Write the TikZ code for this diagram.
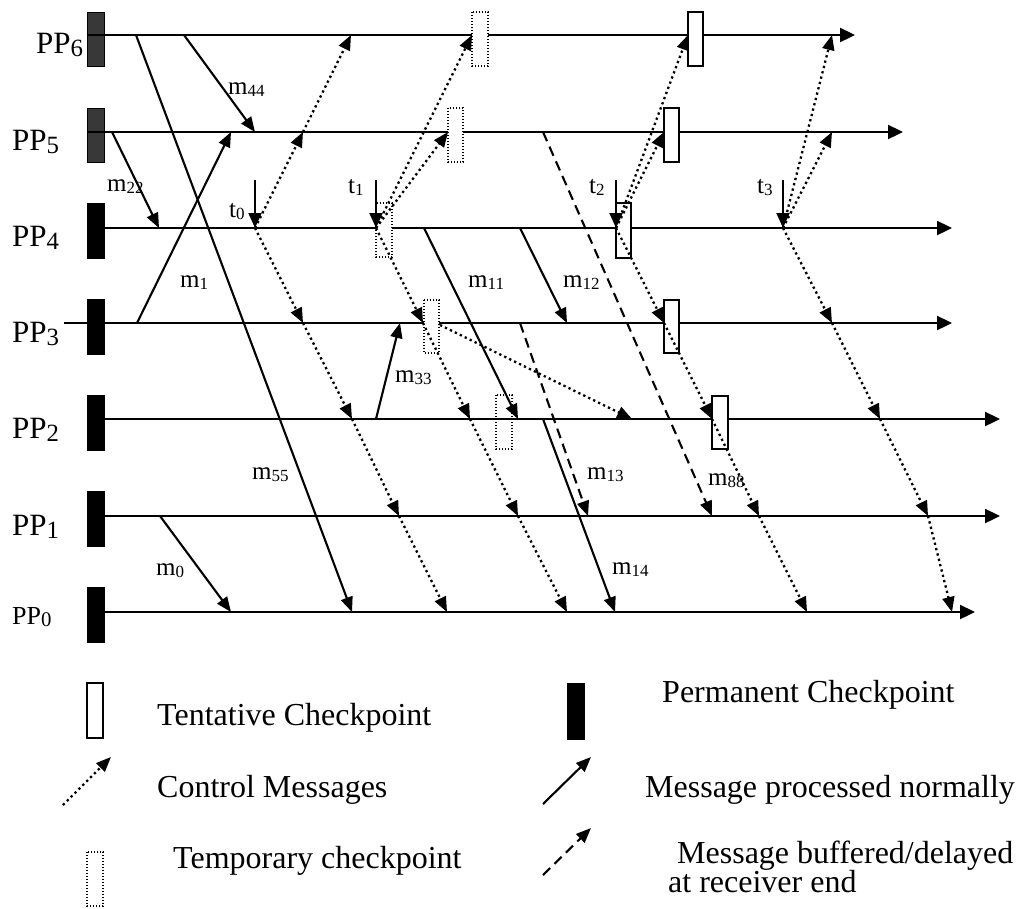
\documentclass[tikz,border=0pt]{standalone}
\usepackage{graphicx}
\usepackage{fontspec}
\setmainfont{Liberation Serif}
\usetikzlibrary{arrows.meta}
\newcommand\mysub[2][0.68]{\raisebox{-0.1em}{\scalebox{#1}{#2}}}
\tikzset{
 proc/.style={line width=2.3pt, -{Triangle[length=15pt,width=14pt]}},
 msg/.style={line width=2.1pt, -{Triangle[length=15pt,width=12pt]}},
 buf/.style={msg, dash pattern=on 10pt off 6pt},
 ctrl/.style={line width=2.3pt, dash pattern=on 2.3pt off 3.2pt, -{Triangle[length=15pt,width=12pt]}},
 tick/.style={line width=2pt, -{Triangle[length=15pt,width=13pt]}},
 perm/.style={fill=black, draw=black, line width=0.8pt},
 permg/.style={fill=black!78, draw=black, line width=0.8pt},
 tent/.style={fill=white, draw=black, line width=1.7pt},
 temp/.style={draw=black, line width=1.4pt, dash pattern=on 1.4pt off 1.6pt},
 tempw/.style={temp, fill=white},
 plab/.style={anchor=base west, inner sep=0pt, font=\fontsize{31}{36}\selectfont},
 mlab/.style={anchor=base west, inner sep=0pt, font=\fontsize{25}{30}\selectfont},
 leg/.style={anchor=base west, inner sep=0pt, font=\fontsize{32}{38}\selectfont},
}
\begin{document}
\begin{tikzpicture}[x=1pt,y=-1pt]
\useasboundingbox (0,0) rectangle (1019,908);

% permanent checkpoints
\draw[permg] (87,12) rectangle (104,66);
\draw[permg] (87,108) rectangle (104,162);
\draw[perm] (87,203) rectangle (104,258);
\draw[perm] (87,299) rectangle (104,354);
\draw[perm] (87,395) rectangle (104,450);
\draw[perm] (87,491) rectangle (104,546);
\draw[perm] (87,587) rectangle (104,642);

% process lines
\coordinate (P6s) at (88,35);  \coordinate (P6e) at (855,35);
\coordinate (P5s) at (88,132); \coordinate (P5e) at (903,132);
\coordinate (P4s) at (104,228); \coordinate (P4e) at (952,228);
\coordinate (P3s) at (64,323);  \coordinate (P3e) at (952,323);
\coordinate (P2s) at (104,419); \coordinate (P2e) at (1000,419);
\coordinate (P1s) at (104,516); \coordinate (P1e) at (1000,516);
\coordinate (P0s) at (104,612); \coordinate (P0e) at (975,612);
\foreach \p in {6,5,4,3,2,1,0} {\draw[proc] (P\p s) -- (P\p e);}

% process labels
\node[plab] (L6) at (36,53) {PP\mysub[0.8]{6}};
\node[plab] (L5) at (12,150) {PP\mysub[0.8]{5}};
\node[plab] (L4) at (12,246) {PP\mysub[0.8]{4}};
\node[plab] (L3) at (12,342) {PP\mysub[0.8]{3}};
\node[plab] (L2) at (12,438) {PP\mysub[0.8]{2}};
\node[plab] (L1) at (12,535) {PP\mysub[0.8]{1}};
\node[plab, font=\fontsize{26}{30}\selectfont] (L0) at (12,624) {PP\mysub[0.8]{0}};

% temporary checkpoints
\draw[tempw] (472,12) rectangle (488,66);
\draw[tempw] (448,108) rectangle (463,162);
\draw[tempw] (376,203) rectangle (392,257);
\draw[tempw] (424,300) rectangle (439,353);
\draw[temp] (496,395) rectangle (512,449);

% tentative checkpoints
\draw[tent] (688,12) rectangle (703,66);
\draw[tent] (664,108) rectangle (679,162);
\draw[tent] (616,203) rectangle (631,258);
\draw[tent] (664,300) rectangle (679,353);
\draw[tent] (712,396) rectangle (728,449);

% initiation ticks
\coordinate (t0a) at (255,180); \coordinate (t0) at (255,228);
\coordinate (t1a) at (376,180); \coordinate (t1) at (376,228);
\coordinate (t2a) at (616,180); \coordinate (t2) at (616,228);
\coordinate (t3a) at (783,180); \coordinate (t3) at (783,228);
\draw[tick] (t0a) -- (t0);
\draw[tick] (t1a) -- (t1);
\draw[tick] (t2a) -- (t2);
\draw[tick] (t3a) -- (t3);
\node[mlab] (lt0) at (229,217) {t\mysub{0}};
\node[mlab] (lt1) at (348,193) {t\mysub{1}};
\node[mlab] (lt2) at (589,193) {t\mysub{2}};
\node[mlab] (lt3) at (757,193) {t\mysub{3}};

% application messages
\coordinate (m55s) at (136,35);  \coordinate (m55e) at (352,612);
\coordinate (m44s) at (184,35);  \coordinate (m44e) at (255,132);
\coordinate (m22s) at (112,132); \coordinate (m22e) at (159,228);
\coordinate (m1s) at (137,323);  \coordinate (m1e) at (231,132);
\coordinate (m0s) at (160,516);  \coordinate (m0e) at (231,612);
\coordinate (m33s) at (376,419); \coordinate (m33e) at (400,323);
\coordinate (m11s) at (424,228); \coordinate (m11e) at (518,419);
\coordinate (m12s) at (520,228); \coordinate (m12e) at (567,323);
\coordinate (m14s) at (543,419); \coordinate (m14e) at (615,612);
\coordinate (m13s) at (520,323); \coordinate (m13e) at (588,516);
\coordinate (m88s) at (543,132); \coordinate (m88e) at (712,516);
\draw[msg] (m55s) -- (m55e);
\draw[msg] (m44s) -- (m44e);
\draw[msg] (m22s) -- (m22e);
\draw[msg] (m1s) -- (m1e);
\draw[msg] (m0s) -- (m0e);
\draw[msg] (m33s) -- (m33e);
\draw[msg] (m11s) -- (m11e);
\draw[msg] (m12s) -- (m12e);
\draw[msg] (m14s) -- (m14e);
\draw[buf] (m13s) -- (m13e);
\draw[buf] (m88s) -- (m88e);
\node[mlab] (l44) at (228,94) {m\mysub{44}};
\node[mlab] (l22) at (107,191) {m\mysub{22}};
\node[mlab] (l1) at (180,287) {m\mysub{1}};
\node[mlab] (l11) at (468,287) {m\mysub{11}};
\node[mlab] (l12) at (563,287) {m\mysub{12}};
\node[mlab] (l33) at (395,382) {m\mysub{33}};
\node[mlab] (l55) at (252,479) {m\mysub{55}};
\node[mlab] (l13) at (587,479) {m\mysub{13}};
\node[mlab] (l88) at (708,485) {m\mysub{88}};
\node[mlab] (l0) at (156,575) {m\mysub{0}};
\node[mlab] (l14) at (612,574) {m\mysub{14}};

% control messages
\coordinate (a5) at (303,132); \coordinate (a6) at (351,35);
\coordinate (a3) at (303,323); \coordinate (a2) at (352,419);
\coordinate (a1) at (399,516); \coordinate (a0) at (447,612);
\draw[ctrl] (t0) -- (a5); \draw[ctrl] (a5) -- (a6);
\draw[ctrl] (t0) -- (a3); \draw[ctrl] (a3) -- (a2);
\draw[ctrl] (a2) -- (a1); \draw[ctrl] (a1) -- (a0);

\coordinate (b5) at (448,132); \coordinate (b6) at (472,35);
\coordinate (b3) at (423,323); \coordinate (b2) at (470,419);
\coordinate (b1) at (518,516); \coordinate (b0) at (567,612);
\coordinate (bx) at (440,325); \coordinate (bxe) at (632,419);
\draw[ctrl] (t1) -- (b5); \draw[ctrl] (t1) -- (b6);
\draw[ctrl] (t1) -- (b3); \draw[ctrl] (b3) -- (b2);
\draw[ctrl] (b2) -- (b1); \draw[ctrl] (b1) -- (b0);
\draw[ctrl] (bx) -- (bxe);

\coordinate (c5) at (664,132); \coordinate (c6) at (688,35);
\coordinate (c3) at (664,323); \coordinate (c2) at (712,419);
\coordinate (c1) at (759,516); \coordinate (c0) at (807,612);
\draw[ctrl] (t2) -- (c5); \draw[ctrl] (t2) -- (c6);
\draw[ctrl] (t2) -- (c3); \draw[ctrl] (c3) -- (c2);
\draw[ctrl] (c2) -- (c1); \draw[ctrl] (c1) -- (c0);

\coordinate (d5) at (832,132); \coordinate (d6) at (832,35);
\coordinate (d3) at (832,323); \coordinate (d2) at (880,419);
\coordinate (d1) at (928,516); \coordinate (d0) at (952,612);
\draw[ctrl] (t3) -- (d5); \draw[ctrl] (t3) -- (d6);
\draw[ctrl] (t3) -- (d3); \draw[ctrl] (d3) -- (d2);
\draw[ctrl] (d2) -- (d1); \draw[ctrl] (d1) -- (d0);

% legend
\draw[tent] (87,683) rectangle (103,738);
\node[leg] (g1) at (157,725) {Tentative Checkpoint};
\coordinate (gc1) at (63,805); \coordinate (gc2) at (111,757);
\draw[ctrl] (gc1) -- (gc2);
\node[leg] (g2) at (157,797) {Control Messages};
\draw[temp] (87,852) rectangle (103,906);
\node[leg] (g3) at (173,868) {Temporary checkpoint};
\draw[perm] (567,683) rectangle (584,739);
\node[leg] (g4) at (662,702) {Permanent Checkpoint};
\coordinate (gm1) at (543,804); \coordinate (gm2) at (591,757);
\draw[msg] (gm1) -- (gm2);
\node[leg] (g5) at (645,797) {Message processed normally};
\coordinate (gb1) at (543,875); \coordinate (gb2) at (591,828);
\draw[buf] (gb1) -- (gb2);
\node[leg] (g6) at (677,863) {Message buffered/delayed};
\node[leg] (g7) at (668,892) {at receiver end};
\end{tikzpicture}
\end{document}
